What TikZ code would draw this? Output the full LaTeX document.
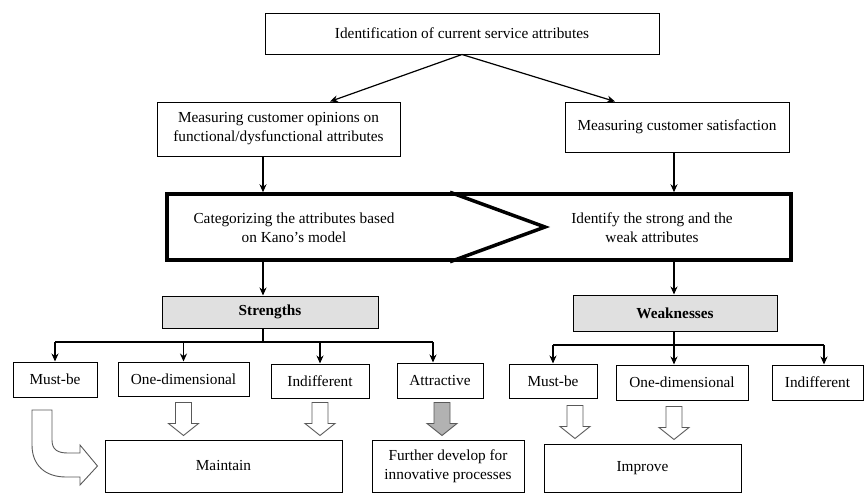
\documentclass[tikz,border=0pt]{standalone}
\usepackage{fontspec}
\setmainfont{Liberation Serif}
\usepackage{tikz}
\usepackage{xcolor}
\usetikzlibrary{arrows.meta,calc}

% hollow block arrow pointing down, #1 = top centre, #2 = fill
\newcommand{\blockdown}[2]{%
\draw[draw=black!65, line width=0.9pt, fill=#2] #1 ++(-8,0) -- ++(0,21) -- ++(-7,0) -- ++(15,12) -- ++(15,-12) -- ++(-7,0) -- ++(0,-21) -- cycle;}

\begin{document}
\begin{tikzpicture}[x=1pt, y=-1pt,
  every node/.style={font=\fontsize{15.3}{19}\selectfont},
  box/.style={rectangle, draw, line width=1pt, inner sep=0pt, align=center},
  headbox/.style={box, fill=black!12, font=\fontsize{15.3}{19}\selectfont\bfseries},
  arr/.style={-{Stealth[length=8pt,width=7pt]}, line width=1.2pt}]
\useasboundingbox (0,0) rectangle (865,493);

% top part
\node[box, minimum width=394, minimum height=41] (ident) at (462,33.5) {Identification of current service attributes};
\node[box, minimum width=243, minimum height=54] (opin) at (278.5,129) {Measuring customer opinions on\\functional/dysfunctional attributes};
\node[box, minimum width=224, minimum height=50] (satis) at (677,127) {Measuring customer satisfaction};

\coordinate (aL) at (330,0);
\coordinate (aR) at (615,0);
\coordinate (colS) at (263,0);
\coordinate (colW) at (674,0);

\draw[arr] (ident.south) -- (opin.north -| aL);
\draw[arr] (ident.south) -- (satis.north -| aR);

% Kano box with chevron
\node[rectangle, draw, line width=3.5pt, minimum width=624, minimum height=66] (kano) at (479,227) {};
\coordinate (chev) at (450,0);
\draw[line width=3.5pt, line join=miter] (kano.north -| chev) -- (545,227) -- (kano.south -| chev);
\node[align=center] (categ) at (294,228) {Categorizing the attributes based\\on Kano’s model};
\node[align=center] (identw) at (652,228) {Identify the strong and the\\weak attributes};

\draw[arr] (opin.south -| colS) -- (kano.north -| colS);
\draw[arr] (satis.south -| colW) -- (kano.north -| colW);

% strengths / weaknesses
\node[headbox, minimum width=216, minimum height=32] (strS) at (270,312) {Strengths};
\node[headbox, minimum width=204, minimum height=36] (weakW) at (675,313) {Weaknesses};
\draw[arr] (kano.south -| colS) -- (strS.north -| colS);
\draw[arr] (kano.south -| colW) -- (weakW.north -| colW);

\node[box, minimum width=84, minimum height=35] (mbS) at (55,379.5) {Must-be};
\node[box, minimum width=131, minimum height=34] (odS) at (183.5,379) {One-dimensional};
\node[box, minimum width=98, minimum height=34] (inS) at (320,381) {Indifferent};
\node[box, minimum width=86, minimum height=35] (atS) at (440,380.5) {Attractive};

\node[box, minimum width=88, minimum height=34] (mbW) at (553,381) {Must-be};
\node[box, minimum width=132, minimum height=35] (odW) at (682,382.5) {One-dimensional};
\node[box, minimum width=91, minimum height=35] (inW) at (817.5,382.5) {Indifferent};

% bus lines
\coordinate (busS) at (263,342);
\coordinate (busW) at (674,345);
\draw[line width=1.2pt] (strS.south -| colS) -- (busS);
\draw[line width=1.2pt] (busS -| mbS.north) -- (busS -| 433,0);
\draw[arr] (busS -| mbS.north) -- (mbS.north);
\draw[arr] (busS -| odS.north) -- (odS.north);
\draw[arr] (busS -| inS.north) -- (inS.north);
\draw[arr] (busS -| 433,0) -- (atS.north -| 433,0);

\draw[line width=1.2pt] (weakW.south -| colW) -- (busW);
\draw[line width=1.2pt] (busW -| mbW.north) -- (busW -| 824,0);
\draw[arr] (busW -| mbW.north) -- (mbW.north);
\draw[arr] (busW) -- (odW.north -| colW);
\draw[arr] (busW -| 824,0) -- (inW.north -| 824,0);

% outcome boxes
\node[box, minimum width=237, minimum height=52] (maint) at (223.5,466) {Maintain};
\node[box, minimum width=152, minimum height=52] (furth) at (448,466) {Further develop for\\innovative processes};
\node[box, minimum width=197, minimum height=48] (impr) at (642.5,468) {Improve};

% block arrows
\blockdown{([yshift=-6pt]odS.south)}{white}
\blockdown{([yshift=-4pt]inS.south)}{white}
\blockdown{([xshift=2pt,yshift=-4pt]atS.south)}{black!30}
\blockdown{([xshift=22pt,yshift=-7pt]mbW.south)}{white}
\blockdown{([xshift=-8pt,yshift=-6pt]odW.south)}{white}

% curved arrow from Must-be to Maintain
\draw[draw=black!65, line width=0.9pt, fill=white] (32,410) -- (52,410) -- (52,440)
  .. controls (52,450) and (58,453) .. (68,453) -- (80,453) -- (80,445)
  -- ([xshift=-7pt]maint.west) -- (80,485) -- (80,477) -- (66,477)
  .. controls (45,477) and (32,465) .. (32,445) -- cycle;
\end{tikzpicture}
\end{document}
